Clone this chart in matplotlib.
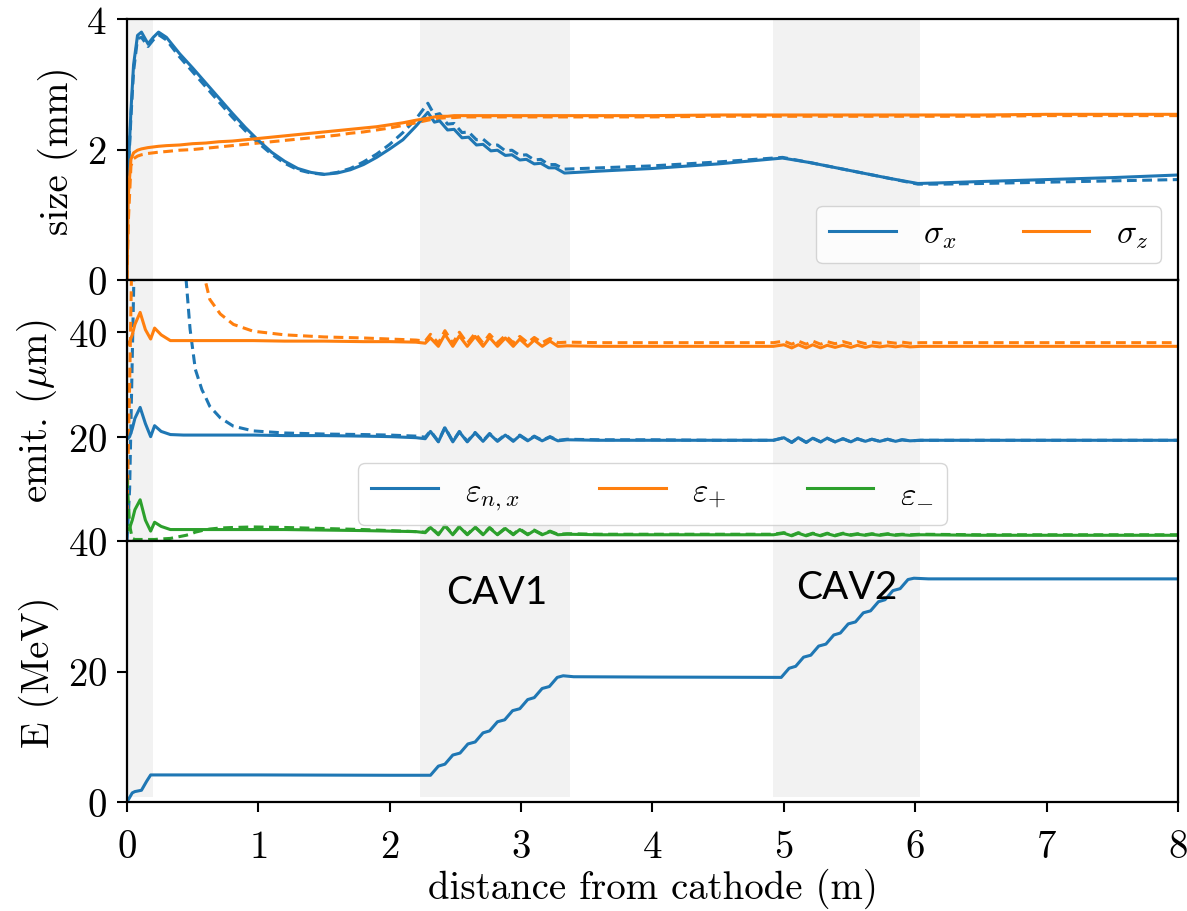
import matplotlib
matplotlib.use('Agg')
import matplotlib.pyplot as plt

plt.rcParams['font.family'] = 'serif'
plt.rcParams['font.serif'] = ['cmr10']
plt.rcParams['mathtext.fontset'] = 'cm'
plt.rcParams['axes.formatter.use_mathtext'] = True
plt.rcParams['axes.unicode_minus'] = False

# beam size along the line (mm)
x_size = [0.0, 0.01, 0.03, 0.05, 0.08, 0.11, 0.16, 0.2, 0.24, 0.3,
          0.4, 0.5, 0.6, 0.7, 0.8, 0.9, 1.0, 1.1, 1.2, 1.3,
          1.4, 1.5, 1.6, 1.7, 1.8, 1.9, 2.0, 2.1, 2.2, 2.29,
          2.34, 2.38, 2.44, 2.49, 2.55, 2.60, 2.66, 2.71, 2.77, 2.82,
          2.88, 2.93, 2.99, 3.04, 3.10, 3.15, 3.21, 3.26, 3.33,
          3.6, 4.0, 4.5, 4.99, 5.2, 5.4, 5.6, 5.8, 6.02, 6.2,
          6.5, 7.0, 7.5, 8.0]
sigx = [1.6, 1.7, 2.6, 3.3, 3.75, 3.8, 3.62, 3.72, 3.8, 3.72,
        3.47, 3.25, 3.02, 2.79, 2.56, 2.34, 2.14, 1.96, 1.82, 1.71,
        1.65, 1.62, 1.64, 1.69, 1.77, 1.88, 2.01, 2.15, 2.36, 2.57,
        2.42, 2.44, 2.30, 2.31, 2.18, 2.19, 2.07, 2.08, 1.98, 1.99,
        1.91, 1.92, 1.84, 1.85, 1.78, 1.79, 1.72, 1.72, 1.64,
        1.67, 1.71, 1.78, 1.87, 1.80, 1.72, 1.64, 1.56, 1.48, 1.49,
        1.51, 1.54, 1.57, 1.61]
sigx_ref = [1.6, 1.65, 2.5, 3.2, 3.7, 3.72, 3.58, 3.68, 3.76, 3.68,
            3.42, 3.19, 2.96, 2.73, 2.50, 2.29, 2.10, 1.93, 1.79, 1.69,
            1.64, 1.62, 1.65, 1.71, 1.81, 1.93, 2.08, 2.26, 2.47, 2.71,
            2.53, 2.55, 2.39, 2.40, 2.26, 2.27, 2.15, 2.16, 2.06, 2.07,
            1.98, 1.99, 1.91, 1.92, 1.84, 1.85, 1.77, 1.77, 1.70,
            1.72, 1.75, 1.81, 1.88, 1.80, 1.72, 1.64, 1.56, 1.47, 1.47,
            1.48, 1.50, 1.52, 1.54]
sigz = [0.0, 1.3, 1.85, 1.95, 1.99, 2.01, 2.03, 2.04, 2.05, 2.06,
        2.07, 2.09, 2.10, 2.12, 2.13, 2.15, 2.17, 2.19, 2.21, 2.23,
        2.25, 2.27, 2.29, 2.31, 2.33, 2.35, 2.38, 2.41, 2.45, 2.48,
        2.50, 2.51, 2.51, 2.52, 2.52, 2.52, 2.52, 2.52, 2.52, 2.52,
        2.52, 2.52, 2.52, 2.52, 2.52, 2.52, 2.52, 2.52, 2.52,
        2.52, 2.52, 2.53, 2.53, 2.53, 2.53, 2.53, 2.53, 2.53, 2.53,
        2.53, 2.54, 2.54, 2.54]
sigz_ref = [0.0, 0.9, 1.75, 1.86, 1.90, 1.92, 1.94, 1.95, 1.96, 1.97,
            1.99, 2.00, 2.02, 2.04, 2.06, 2.08, 2.10, 2.12, 2.14, 2.16,
            2.18, 2.20, 2.22, 2.25, 2.27, 2.30, 2.33, 2.37, 2.41, 2.45,
            2.47, 2.48, 2.49, 2.49, 2.50, 2.50, 2.50, 2.50, 2.50, 2.50,
            2.50, 2.50, 2.50, 2.50, 2.50, 2.50, 2.50, 2.50, 2.50,
            2.50, 2.50, 2.51, 2.51, 2.51, 2.51, 2.51, 2.51, 2.51, 2.51,
            2.51, 2.52, 2.52, 2.52]

# emittances (um)
x_emit = [0.0, 0.02, 0.04, 0.06, 0.1, 0.14, 0.18, 0.21, 0.26, 0.33,
          0.43, 0.45, 0.48, 0.52, 0.57, 0.59, 0.63, 0.71, 0.81, 0.96,
          1.2, 1.5, 1.8, 2.0, 2.2, 2.27,
          2.31, 2.37, 2.42, 2.48, 2.53, 2.59, 2.65, 2.71, 2.76, 2.82,
          2.88, 2.94, 2.99, 3.05, 3.10, 3.16, 3.22, 3.28, 3.35,
          3.6, 4.0, 4.5, 4.92,
          5.00, 5.06, 5.11, 5.17, 5.22, 5.28, 5.33, 5.39, 5.45, 5.51,
          5.56, 5.62, 5.67, 5.73, 5.79, 5.85, 5.90, 5.96, 6.04,
          6.5, 7.0, 8.0]
eps_nx = [19.5, 20.0, 21.5, 23.5, 25.6, 22.5, 20.0, 22.1, 21.0, 20.4,
          20.3, 20.3, 20.3, 20.3, 20.3, 20.3, 20.3, 20.3, 20.3, 20.3,
          20.2, 20.2, 20.1, 20.0, 19.8, 19.6,
          21.0, 19.0, 21.7, 19.0, 20.9, 19.0, 20.7, 19.1, 20.5, 19.1,
          20.3, 19.1, 20.2, 19.2, 20.0, 19.2, 19.9, 19.2, 19.4,
          19.3, 19.3, 19.3, 19.3,
          19.8, 18.9, 19.8, 18.9, 19.7, 19.0, 19.7, 19.0, 19.6, 19.0,
          19.6, 19.1, 19.5, 19.1, 19.5, 19.1, 19.4, 19.2, 19.3,
          19.3, 19.3, 19.3]
eps_nx_ref = [0.0, 10.0, 35.0, 60.0, 60.0, 60.0, 60.0, 60.0, 60.0, 60.0,
              60.0, 50.0, 40.6, 32.9, 29.0, 28.0, 25.8, 23.6, 22.0, 21.1,
              20.7, 20.5, 20.4, 20.3, 20.1, 19.9,
              21.1, 19.1, 21.8, 19.1, 21.0, 19.1, 20.8, 19.2, 20.6, 19.2,
              20.4, 19.2, 20.3, 19.3, 20.1, 19.3, 20.0, 19.3, 19.5,
              19.4, 19.4, 19.3, 19.3,
              19.8, 18.9, 19.8, 18.9, 19.7, 19.0, 19.7, 19.0, 19.6, 19.0,
              19.6, 19.1, 19.5, 19.1, 19.5, 19.1, 19.4, 19.2, 19.3,
              19.3, 19.3, 19.3]
eps_plus = [37.5, 38.2, 39.5, 41.5, 43.8, 40.5, 38.7, 40.8, 39.5, 38.4,
            38.4, 38.4, 38.4, 38.4, 38.4, 38.4, 38.4, 38.4, 38.4, 38.4,
            38.3, 38.3, 38.2, 38.2, 38.1, 37.9,
            38.9, 37.3, 39.6, 37.3, 39.3, 37.3, 39.2, 37.3, 39.0, 37.3,
            38.9, 37.3, 38.7, 37.3, 38.5, 37.3, 38.3, 37.3, 37.4,
            37.3, 37.3, 37.3, 37.3,
            37.6, 37.0, 37.6, 37.0, 37.6, 37.0, 37.5, 37.1, 37.5, 37.1,
            37.5, 37.1, 37.4, 37.2, 37.4, 37.2, 37.4, 37.2, 37.3,
            37.3, 37.3, 37.3]
eps_plus_ref = [5.0, 30.0, 60.0, 60.0, 60.0, 60.0, 60.0, 60.0, 60.0, 60.0,
                60.0, 60.0, 60.0, 60.0, 60.0, 50.5, 46.3, 43.5, 41.5, 40.2,
                39.5, 39.1, 38.9, 38.7, 38.5, 38.3,
                39.6, 37.9, 40.3, 37.9, 40.0, 37.9, 39.8, 37.9, 39.6, 38.0,
                39.4, 38.0, 39.2, 38.0, 39.0, 38.0, 38.8, 38.0, 38.1,
                38.0, 38.0, 38.0, 38.0,
                38.3, 37.7, 38.3, 37.7, 38.3, 37.7, 38.2, 37.8, 38.2, 37.8,
                38.2, 37.8, 38.1, 37.9, 38.1, 37.9, 38.1, 37.9, 38.0,
                38.0, 38.0, 38.0]
eps_minus = [2.0, 2.5, 4.0, 6.0, 7.9, 4.0, 1.9, 3.6, 2.8, 2.2,
             2.2, 2.2, 2.2, 2.2, 2.2, 2.2, 2.2, 2.2, 2.2, 2.2,
             2.2, 2.1, 2.0, 1.9, 1.8, 1.6,
             2.6, 1.2, 2.9, 1.2, 2.7, 1.2, 2.6, 1.2, 2.5, 1.2,
             2.4, 1.2, 2.2, 1.2, 2.0, 1.2, 1.8, 1.2, 1.3,
             1.2, 1.2, 1.2, 1.2,
             1.5, 1.0, 1.5, 1.0, 1.4, 1.0, 1.4, 1.0, 1.4, 1.1,
             1.3, 1.1, 1.3, 1.1, 1.3, 1.1, 1.2, 1.1, 1.2,
             1.1, 1.1, 1.1]
eps_minus_ref = [12.0, 3.0, 0.5, 0.3, 0.3, 0.3, 0.3, 0.3, 0.4, 0.5,
                 1.0, 1.1, 1.3, 1.7, 2.0, 2.1, 2.3, 2.5, 2.6, 2.7,
                 2.6, 2.4, 2.2, 2.0, 1.8, 1.7,
                 2.7, 1.3, 3.0, 1.3, 2.8, 1.3, 2.7, 1.3, 2.6, 1.3,
                 2.5, 1.3, 2.3, 1.3, 2.1, 1.3, 1.9, 1.3, 1.4,
                 1.3, 1.3, 1.3, 1.3,
                 1.6, 1.1, 1.6, 1.1, 1.5, 1.1, 1.5, 1.1, 1.5, 1.2,
                 1.4, 1.2, 1.4, 1.2, 1.4, 1.2, 1.3, 1.2, 1.3,
                 1.2, 1.2, 1.2]

# beam energy (MeV)
x_E = [0.0, 0.04, 0.06, 0.11, 0.15, 0.18, 0.25, 1.0, 2.0, 2.31,
       2.37, 2.42, 2.48, 2.535, 2.595, 2.65, 2.71, 2.76, 2.82, 2.875,
       2.935, 2.99, 3.05, 3.10, 3.16, 3.215, 3.275, 3.32, 3.40, 4.0,
       4.98, 5.04, 5.09, 5.15, 5.205, 5.265, 5.32, 5.38, 5.43, 5.49,
       5.545, 5.605, 5.66, 5.72, 5.77, 5.83, 5.885, 5.945, 5.99, 6.1,
       7.0, 8.0]
E_MeV = [0.0, 1.4, 1.6, 1.8, 3.2, 4.15, 4.15, 4.15, 4.1, 4.1,
         5.5, 5.8, 7.2, 7.5, 8.9, 9.2, 10.6, 10.9, 12.3, 12.6,
         14.0, 14.3, 15.7, 16.0, 17.4, 17.7, 19.1, 19.35, 19.2, 19.15,
         19.1, 20.5, 20.8, 22.2, 22.5, 23.9, 24.2, 25.6, 25.9, 27.3,
         27.6, 29.0, 29.3, 30.7, 31.0, 32.4, 32.7, 34.1, 34.3, 34.2,
         34.2, 34.2]

# gun and cavity regions
zones = [(0.0, 0.2), (2.23, 3.37), (4.92, 6.04)]
cav_names = ['CAV1', 'CAV2']
cav_pos = [(2.43, 30.5), (5.09, 31.2)]

blue, orange, green = '#1f77b4', '#ff7f0e', '#2ca02c'
lw = 2.2
dash = (0, (3.2, 1.8))
fs = 28

fig, axes = plt.subplots(3, 1, sharex=True, figsize=(11.87, 9.12), dpi=100)
fig.subplots_adjust(left=0.107, right=0.9924, top=0.978, bottom=0.1195, hspace=0)
ax1, ax2, ax3 = axes

for i, ax in enumerate(axes):
    for a, b in zones:
        ax.axvspan(a, b, ymin=0.02 if i == 2 else 0, color='#f2f2f2', lw=0, zorder=0)
    for s in ax.spines.values():
        s.set_linewidth(1.6)
    ax.tick_params(axis='both', direction='out', length=7.5, width=1.5,
                   labelsize=fs, pad=7)

ax1.plot(x_size, sigx_ref, color=blue, lw=lw, ls=dash)
ax1.plot(x_size, sigz_ref, color=orange, lw=lw, ls=dash)
ax1.plot(x_size, sigx, color=blue, lw=lw, label=r'$\sigma_x$', solid_joinstyle='round')
ax1.plot(x_size, sigz, color=orange, lw=lw, label=r'$\sigma_z$')
ax1.set_ylim(0, 4)
ax1.set_yticks([0, 2, 4])
ax1.set_ylabel('size (mm)', fontsize=fs, labelpad=6)
ax1.legend(loc='lower right', ncol=2, fontsize=24)

ax2.plot(x_emit, eps_nx_ref, color=blue, lw=lw, ls=dash)
ax2.plot(x_emit, eps_plus_ref, color=orange, lw=lw, ls=dash)
ax2.plot(x_emit, eps_minus_ref, color=green, lw=lw, ls=dash)
ax2.plot(x_emit, eps_nx, color=blue, lw=lw, label=r'$\varepsilon_{n,x}$', solid_joinstyle='round')
ax2.plot(x_emit, eps_plus, color=orange, lw=lw, label=r'$\varepsilon_{+}$', solid_joinstyle='round')
ax2.plot(x_emit, eps_minus, color=green, lw=lw, label=r'$\varepsilon_{-}$', solid_joinstyle='round')
ax2.set_ylim(0, 50)
ax2.set_yticks([20, 40])
ax2.set_ylabel(r'emit. ($\mu$m)', fontsize=fs, labelpad=6)
ax2.legend(loc='center', bbox_to_anchor=(0.5, 0.18), ncol=3, fontsize=24,
           columnspacing=2.4)

ax3.plot(x_E, E_MeV, color=blue, lw=lw, solid_joinstyle='round')
ax3.set_ylim(0, 40)
ax3.set_yticks([0, 20, 40])
ax3.set_ylabel('E (MeV)', fontsize=fs, labelpad=6)
ax3.set_xlim(0, 8)
ax3.set_xticks(range(9))
ax3.tick_params(axis='x', pad=12)
ax3.set_xlabel('distance from cathode (m)', fontsize=fs, labelpad=2)
for name, (tx, ty) in zip(cav_names, cav_pos):
    ax3.text(tx, ty, name, fontsize=28, family='Lato', ha='left', va='baseline')

for ax in (ax1, ax2):
    ax.tick_params(axis='x', bottom=False, labelbottom=False)

fig.savefig('out.png', dpi=100)
